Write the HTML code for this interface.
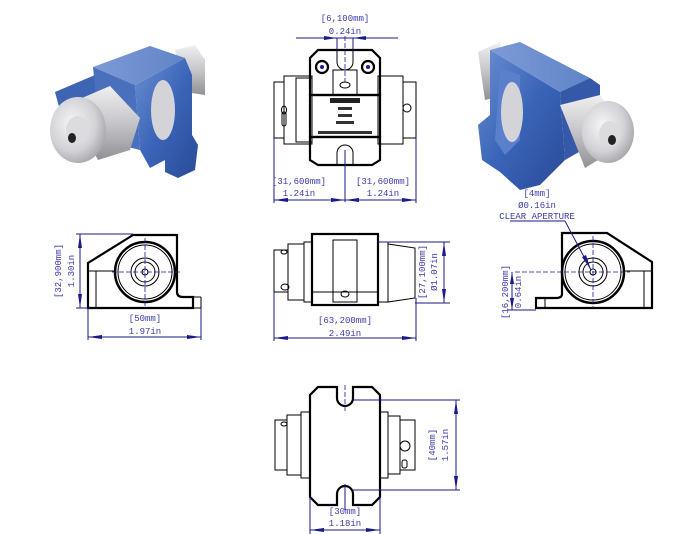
<!DOCTYPE html>
<html><head><meta charset="utf-8"><style>
html,body{margin:0;padding:0;background:#fff;}
svg{display:block;}
.d{font-family:"Liberation Mono",monospace;font-size:9px;fill:#3b3ba8;text-anchor:middle;}
.l{stroke:#000;fill:none;stroke-width:1;}
.t{stroke:#000;fill:none;stroke-width:2.2;}
.dm{stroke:#1a1a8a;stroke-width:1;fill:none;}
.c{stroke:#1a1aa0;stroke-width:0.8;stroke-dasharray:5,2;fill:none;}
.a{fill:#1a1a8a;}
</style></head><body>
<svg width="685" height="534" viewBox="0 0 685 534" xmlns="http://www.w3.org/2000/svg">
<defs>
<linearGradient id="blue" x1="0" y1="0" x2="1" y2="1"><stop offset="0" stop-color="#6a8fd0"/><stop offset="0.5" stop-color="#3a64b8"/><stop offset="1" stop-color="#2a4a98"/></linearGradient>
<linearGradient id="bluetop" x1="0" y1="0" x2="1" y2="0"><stop offset="0" stop-color="#7d9ad6"/><stop offset="1" stop-color="#5f84c8"/></linearGradient>
<radialGradient id="sil" cx="0.4" cy="0.4" r="0.7"><stop offset="0" stop-color="#f6f6f6"/><stop offset="0.6" stop-color="#d2d2d6"/><stop offset="1" stop-color="#9a9aa0"/></radialGradient>
<linearGradient id="silc" x1="0" y1="0" x2="0" y2="1"><stop offset="0" stop-color="#f0f0f2"/><stop offset="0.5" stop-color="#c6c6ca"/><stop offset="1" stop-color="#909096"/></linearGradient>
</defs>

<!-- 3D left -->
<g>
<polygon points="175,50 195,45 205,60 205,95 185,92" fill="url(#silc)"/>
<polygon points="55,92 95,75 100,110 62,118" fill="#3e64b4"/>
<polygon points="135,85 185,58 192,75 192,135 198,145 195,170 178,178 165,172 165,160 150,168 140,150" fill="url(#blue)"/>
<polygon points="93,67 150,46 185,58 135,85" fill="url(#bluetop)"/>
<polygon points="93,67 135,85 140,150 100,140" fill="#4a70bd"/>
<ellipse cx="163" cy="110" rx="12" ry="30" fill="#d4d4d8"/>
<polygon points="68,104 110,86 140,118 130,150 98,160" fill="url(#silc)"/>
<ellipse cx="78" cy="130" rx="28" ry="33" fill="url(#sil)"/>
<ellipse cx="78" cy="130" rx="12" ry="14" fill="#dcdce0"/>
<ellipse cx="72" cy="138" rx="4" ry="5" fill="#222"/>
</g>
<!-- 3D right -->
<g>
<polygon points="478,52 500,42 505,95 485,100" fill="url(#silc)"/>
<polygon points="490,50 520,42 590,78 560,92" fill="url(#bluetop)"/>
<polygon points="490,50 560,92 565,160 540,185 520,190 500,172 482,160 478,125 490,115" fill="url(#blue)"/>
<polygon points="560,92 590,78 600,85 600,140 565,160" fill="#3558a8"/>
<polygon points="500,68 520,75 520,140 505,155 495,140" fill="#5a80cc"/>
<ellipse cx="512" cy="112" rx="11" ry="30" fill="#d4d4d8"/>
<polygon points="560,105 600,95 630,140 585,168" fill="url(#silc)"/>
<ellipse cx="608" cy="132" rx="26" ry="31" fill="url(#sil)"/>
<ellipse cx="610" cy="134" rx="11" ry="13" fill="#dcdce0"/>
<ellipse cx="612" cy="140" rx="4" ry="5" fill="#222"/>
</g>

<!-- TOP VIEW -->
<g>
<rect class="l" x="274" y="82" width="10" height="56"/>
<rect class="l" x="284" y="76" width="28" height="68"/>
<rect class="l" x="296" y="78" width="16" height="64"/>
<rect class="l" x="378" y="76" width="25" height="68"/>
<rect class="l" x="403" y="82" width="13" height="56"/>
<circle class="l" cx="407" cy="108" r="4"/>
<ellipse class="l" cx="284" cy="110" rx="2.5" ry="4"/>
<rect class="l" x="282" y="112" width="4" height="14" rx="2"/>
<polygon class="t" points="318,50 372,50 380,58 380,95 310,95 310,58"/>
<rect class="t" x="310" y="95" width="70" height="42"/>
<polygon class="t" points="310,137 380,137 380,160 372,165 318,165 310,160"/>
<path class="l" d="M337,50 v12 a8,8 0 0 0 16,0 v-12"/>
<path class="l" d="M337,165 v-12 a8,8 0 0 1 16,0 v12"/>
<rect class="l" x="333" y="70" width="24" height="25"/>
<ellipse class="l" cx="345" cy="85" rx="5" ry="3"/>
<circle class="t" cx="322" cy="67" r="6"/><circle fill="#1a1aa0" cx="322" cy="67" r="2"/>
<circle class="t" cx="368" cy="67" r="6"/><circle fill="#1a1aa0" cx="368" cy="67" r="2"/>
<rect x="330" y="98" width="30" height="5" fill="#222"/>
<rect x="338" y="107" width="14" height="3" fill="#333"/>
<rect x="338" y="114" width="14" height="3" fill="#333"/>
<rect x="336" y="121" width="18" height="3" fill="#333"/>
<rect x="318" y="131" width="54" height="3" fill="#333"/>
<line class="c" x1="345" y1="36" x2="345" y2="82"/>
<line class="dm" x1="345" y1="150" x2="345" y2="202"/>
<line class="dm" x1="337" y1="38" x2="337" y2="50"/><line class="dm" x1="353" y1="38" x2="353" y2="50"/>
<line class="dm" x1="296" y1="38" x2="398" y2="38"/>
<polygon class="a" points="337,38 324,36 324,40"/><polygon class="a" points="353,38 366,36 366,40"/>
<text class="d" x="345" y="21">[6,100mm]</text><text class="d" x="345" y="34">0.24in</text>
<line class="dm" x1="274" y1="138" x2="274" y2="203"/><line class="dm" x1="416" y1="138" x2="416" y2="203"/>
<line class="dm" x1="274" y1="200" x2="416" y2="200"/>
<polygon class="a" points="274,200 288,198 288,202"/><polygon class="a" points="345,200 331,198 331,202"/>
<polygon class="a" points="345,200 359,198 359,202"/><polygon class="a" points="416,200 402,198 402,202"/>
<text class="d" x="299" y="184">[31,600mm]</text><text class="d" x="299" y="196">1.24in</text>
<text class="d" x="383" y="184">[31,600mm]</text><text class="d" x="383" y="196">1.24in</text>
</g>

<!-- FRONT VIEW -->
<g>
<rect class="l" x="274" y="250" width="14" height="42"/>
<rect class="l" x="288" y="244" width="16" height="56"/>
<rect class="l" x="304" y="242" width="8" height="60"/>
<rect class="l" x="378" y="242" width="10" height="60"/>
<polygon class="l" points="388,244 415,248 415,298 388,302"/>
<ellipse class="l" cx="284" cy="252" rx="3" ry="2"/>
<ellipse class="l" cx="285" cy="287" rx="4" ry="3"/>
<rect class="t" x="312" y="234" width="66" height="71"/>
<rect class="l" x="333" y="240" width="24" height="62"/>
<line class="l" x1="312" y1="292" x2="378" y2="292"/>
<ellipse class="l" cx="345" cy="294" rx="4" ry="3"/>
<line class="dm" x1="378" y1="242" x2="450" y2="242"/><line class="dm" x1="415" y1="303" x2="450" y2="303"/>
<line class="dm" x1="444" y1="242" x2="444" y2="303"/>
<polygon class="a" points="444,242 442,256 446,256"/><polygon class="a" points="444,303 442,289 446,289"/>
<text class="d" transform="translate(425,272) rotate(-90)">[27,100mm]</text>
<text class="d" transform="translate(437,272) rotate(-90)">Ø1.07in</text>
<line class="dm" x1="274" y1="292" x2="274" y2="341"/><line class="dm" x1="416" y1="298" x2="416" y2="341"/>
<line class="dm" x1="274" y1="338" x2="416" y2="338"/>
<polygon class="a" points="274,338 288,336 288,340"/><polygon class="a" points="416,338 402,336 402,340"/>
<text class="d" x="345" y="323">[63,200mm]</text><text class="d" x="345" y="336">2.49in</text>
</g>

<!-- LEFT SIDE VIEW -->
<g>
<path class="t" d="M88,308 V263 L133,235 H177 V292 Q177,297 183,297 H193 V308 Z"/>
<line class="l" x1="88" y1="271" x2="115" y2="271"/>
<line class="l" x1="96" y1="271" x2="96" y2="308"/>
<line class="l" x1="193" y1="297" x2="201" y2="297"/><line class="l" x1="201" y1="297" x2="201" y2="308"/><line class="l" x1="193" y1="308" x2="201" y2="308"/>
<circle cx="145" cy="272" r="30" fill="#fff" stroke="#000" stroke-width="2.5"/>
<circle class="l" cx="145" cy="272" r="27"/>
<circle class="l" cx="145" cy="272" r="14"/><circle class="l" cx="145" cy="272" r="10"/>
<circle class="l" cx="145" cy="272" r="3"/>
<line class="c" x1="112" y1="272" x2="180" y2="272"/><line class="c" x1="145" y1="238" x2="145" y2="306"/>
<line class="dm" x1="76" y1="234" x2="133" y2="234"/><line class="dm" x1="76" y1="308" x2="90" y2="308"/>
<line class="dm" x1="80" y1="234" x2="80" y2="308"/>
<polygon class="a" points="80,234 78,248 82,248"/><polygon class="a" points="80,308 78,294 82,294"/>
<text class="d" transform="translate(61,271) rotate(-90)">[32,900mm]</text>
<text class="d" transform="translate(74,271) rotate(-90)">1.30in</text>
<line class="dm" x1="88" y1="308" x2="88" y2="340"/><line class="dm" x1="201" y1="308" x2="201" y2="340"/>
<line class="dm" x1="88" y1="337" x2="201" y2="337"/>
<polygon class="a" points="88,337 102,335 102,339"/><polygon class="a" points="201,337 187,335 187,339"/>
<text class="d" x="145" y="321">[50mm]</text><text class="d" x="145" y="334">1.97in</text>
</g>

<!-- RIGHT SIDE VIEW -->
<g>
<path class="t" d="M652,308 V262 L607,233 H562 V294 Q562,298 556,298 H536 V308 Z"/>
<line class="l" x1="625" y1="271" x2="652" y2="271"/>
<line class="l" x1="644" y1="271" x2="644" y2="308"/>
<line class="l" x1="545" y1="298" x2="545" y2="308"/>
<circle cx="593" cy="272" r="31" fill="#fff" stroke="#000" stroke-width="2.5"/>
<circle class="l" cx="593" cy="272" r="28"/>
<circle class="l" cx="593" cy="272" r="14"/><circle class="l" cx="593" cy="272" r="10"/>
<circle class="l" cx="593" cy="272" r="3"/>
<line class="c" x1="515" y1="272" x2="630" y2="272"/><line class="c" x1="593" y1="236" x2="593" y2="308"/>
<line class="dm" x1="510" y1="221" x2="565" y2="221"/>
<line class="dm" x1="565" y1="221" x2="591" y2="270"/>
<polygon class="a" points="591,270 582,257 586,255"/>
<text class="d" x="537" y="196">[4mm]</text><text class="d" x="537" y="208">Ø0.16in</text>
<text class="d" x="537" y="219">CLEAR APERTURE</text>
<line class="dm" x1="508" y1="310" x2="536" y2="310"/>
<line class="dm" x1="512" y1="272" x2="512" y2="310"/>
<polygon class="a" points="512,272 510,284 514,284"/><polygon class="a" points="512,310 510,298 514,298"/>
<text class="d" transform="translate(508,292) rotate(-90)">[16,200mm]</text>
<text class="d" transform="translate(521,292) rotate(-90)">0.64in</text>
</g>

<!-- BOTTOM VIEW -->
<g>
<rect class="l" x="275" y="420" width="12" height="50"/>
<rect class="l" x="287" y="415" width="14" height="60"/>
<rect class="l" x="301" y="412" width="9" height="66"/>
<rect class="l" x="380" y="412" width="8" height="66"/>
<rect class="l" x="388" y="416" width="12" height="58"/>
<rect class="l" x="400" y="420" width="15" height="50"/>
<circle class="l" cx="405" cy="446" r="5"/>
<ellipse class="l" cx="284" cy="424" rx="3" ry="2"/>
<rect class="l" x="402" y="460" width="5" height="8" rx="2"/>
<path class="t" d="M318,387 H337 V398 A8,8 0 0 0 353,398 V387 H372 L380,395 V497 L372,505 H353 V494 A8,8 0 0 0 337,494 V505 H318 L310,497 V395 Z"/>
<line class="c" x1="345" y1="385" x2="345" y2="412"/>
<line class="dm" x1="345" y1="484" x2="345" y2="510"/>
<line class="dm" x1="353" y1="400" x2="460" y2="400"/><line class="dm" x1="353" y1="490" x2="460" y2="490"/>
<line class="dm" x1="456" y1="400" x2="456" y2="490"/>
<polygon class="a" points="456,400 454,414 458,414"/><polygon class="a" points="456,490 454,476 458,476"/>
<text class="d" transform="translate(435,445) rotate(-90)">[40mm]</text>
<text class="d" transform="translate(448,445) rotate(-90)">1.57in</text>
<line class="dm" x1="310" y1="497" x2="310" y2="534"/><line class="dm" x1="380" y1="497" x2="380" y2="534"/>
<line class="dm" x1="310" y1="530" x2="380" y2="530"/>
<polygon class="a" points="310,530 324,528 324,532"/><polygon class="a" points="380,530 366,528 366,532"/>
<text class="d" x="345" y="514">[30mm]</text><text class="d" x="345" y="526">1.18in</text>
</g>
</svg>
</body></html>
